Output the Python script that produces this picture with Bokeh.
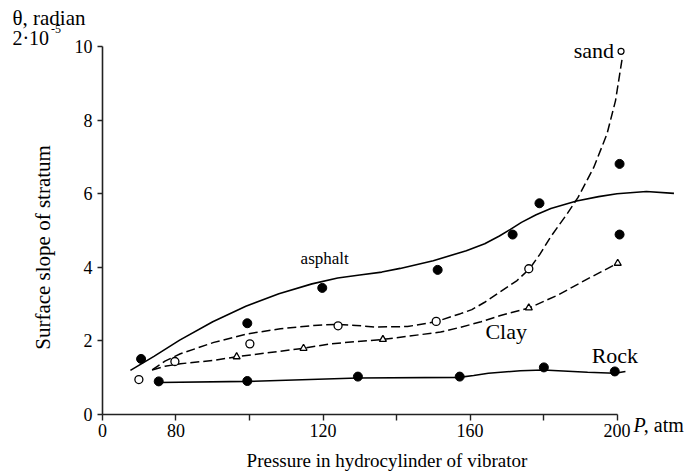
from bokeh.plotting import figure
from bokeh.models import Label, FixedTicker, Range1d
from bokeh.embed import file_html
from bokeh.resources import INLINE
import math

FONT = "Liberation Serif"

# ---- data ----
# smooth curves
asphalt_curve_x = [67.6, 74, 81, 90, 99, 108, 117, 124, 130, 136, 141, 150, 159, 164, 168, 171, 174, 178, 182, 189, 195, 200, 208, 215.5]
asphalt_curve_y = [1.20, 1.58, 2.02, 2.52, 2.94, 3.28, 3.55, 3.71, 3.79, 3.87, 3.97, 4.18, 4.45, 4.64, 4.85, 5.03, 5.22, 5.43, 5.60, 5.80, 5.92, 6.0, 6.06, 6.01]

rock_curve_x = [75.3, 99.4, 129.5, 157, 161, 165, 173.7, 180, 192, 199.4, 202.3]
rock_curve_y = [0.87, 0.90, 0.99, 1.01, 1.06, 1.12, 1.19, 1.21, 1.15, 1.12, 1.17]

sand_curve_x = [73.5, 77, 81.2, 90.3, 99.4, 108.4, 117.5, 124, 129, 134, 143, 150.7, 157.4, 160.5, 164, 167.4, 172.8, 176.2, 179, 181.9, 186.4, 189.4, 193.7, 197.3, 199.6, 201.4]
sand_curve_y = [1.21, 1.45, 1.65, 1.96, 2.19, 2.33, 2.42, 2.45, 2.42, 2.38, 2.39, 2.52, 2.74, 2.85, 3.05, 3.28, 3.64, 3.96, 4.35, 4.82, 5.45, 5.90, 6.72, 7.63, 8.53, 9.67]

clay_curve_x = [73.5, 77, 81.2, 90.3, 96.5, 108.4, 114.7, 122, 136.3, 146.5, 152, 157.4, 163, 168.3, 176.2, 184, 191.5, 200.2]
clay_curve_y = [1.21, 1.31, 1.38, 1.47, 1.57, 1.72, 1.80, 1.92, 2.04, 2.17, 2.24, 2.37, 2.52, 2.69, 2.90, 3.25, 3.66, 4.11]

# measured points
asphalt_pts_x = [70.5, 99.4, 119.8, 151.2, 171.6, 178.9, 200.7, 200.7]
asphalt_pts_y = [1.51, 2.48, 3.44, 3.93, 4.89, 5.74, 6.81, 4.89]

rock_pts_x = [75.3, 99.4, 129.5, 157.2, 180.1, 199.4]
rock_pts_y = [0.90, 0.91, 1.03, 1.03, 1.28, 1.17]

sand_pts_x = [69.9, 79.7, 100.1, 124.1, 150.8, 176.0]
sand_pts_y = [0.95, 1.44, 1.92, 2.41, 2.53, 3.96]
sand_end_x = [201.1]
sand_end_y = [9.87]

clay_pts_x = [96.5, 114.7, 136.3, 176.0, 200.2]
clay_pts_y = [1.57, 1.80, 2.04, 2.90, 4.11]

x_ticks = [60, 80, 100, 120, 140, 160, 180, 200]
x_tick_labels = {60: "0", 80: "80", 100: "", 120: "120", 140: "", 160: "160", 180: "", 200: "200"}
y_ticks = [0, 2, 4, 6, 8, 10]

curve_labels = ["sand", "Clay", "Rock", "asphalt"]
curve_label_x = [188.2, 164.2, 193.1, 113.9]
curve_label_y = [9.89, 2.255, 1.61, 4.24]
curve_label_size = ["22px", "22px", "22px", "17px"]

# ---- figure: the plot area covers the whole canvas, axes sit at fixed data positions ----
p = figure(width=691, height=475, output_backend="svg", toolbar_location=None,
           x_range=Range1d(32.245, 220.272), y_range=Range1d(-1.6576, 11.25),
           min_border=0)
p.background_fill_color = "white"
p.border_fill_color = "white"
p.outline_line_color = None
p.xgrid.visible = False
p.ygrid.visible = False

for ax in (p.xaxis[0], p.yaxis[0]):
    ax.axis_line_color = "#222222"
    ax.axis_line_width = 1.6
    ax.major_tick_line_color = "#222222"
    ax.major_tick_line_width = 1.4
    ax.major_tick_in = 0
    ax.minor_tick_line_color = None
    ax.major_label_text_font = FONT
    ax.major_label_text_font_size = "18px"
    ax.major_label_text_color = "black"

xa = p.xaxis[0]
xa.fixed_location = 0
xa.ticker = FixedTicker(ticks=x_ticks)
xa.major_label_overrides = x_tick_labels
xa.bounds = (60, 200)
xa.major_tick_out = 6
xa.major_label_standoff = 3

ya = p.yaxis[0]
ya.fixed_location = 60
ya.ticker = FixedTicker(ticks=y_ticks)
ya.bounds = (0, 10)
ya.major_tick_out = 5
ya.major_label_standoff = 5

# curves
p.line(asphalt_curve_x, asphalt_curve_y, line_color="black", line_width=1.6)
p.line(rock_curve_x, rock_curve_y, line_color="black", line_width=1.6)
p.line(sand_curve_x, sand_curve_y, line_color="black", line_width=1.5, line_dash="9 4")
p.line(clay_curve_x, clay_curve_y, line_color="black", line_width=1.5, line_dash="9 4")

# points
p.scatter(asphalt_pts_x, asphalt_pts_y, size=9, marker="circle", fill_color="black", line_color="black")
p.scatter(rock_pts_x, rock_pts_y, size=9, marker="circle", fill_color="black", line_color="black")
p.scatter(sand_pts_x, sand_pts_y, size=8, marker="circle", fill_color="white", line_color="black", line_width=1.3)
p.scatter(sand_end_x, sand_end_y, size=6, marker="circle", fill_color="white", line_color="black", line_width=1.2)
p.scatter(clay_pts_x, clay_pts_y, size=7, marker="triangle", fill_color="white", line_color="black", line_width=1.3)

# curve labels
for t, x, y, s in zip(curve_labels, curve_label_x, curve_label_y, curve_label_size):
    p.add_layout(Label(x=x, y=y, text=t, text_font=FONT, text_font_size=s,
                       text_baseline="alphabetic", text_align="left", text_color="black"))

# axis titles and units
p.add_layout(Label(x=35.5, y=10.78, text="θ, radian", text_font=FONT, text_font_size="21px",
                   text_baseline="alphabetic", text_color="black"))
p.add_layout(Label(x=35.5, y=10.22, text="2·10", text_font=FONT, text_font_size="20px",
                   text_baseline="alphabetic", text_color="black"))
p.add_layout(Label(x=46.0, y=10.47, text="-5", text_font=FONT, text_font_size="12px",
                   text_baseline="alphabetic", text_color="black"))
p.add_layout(Label(x=204.5, y=-0.275, text="P", text_font=FONT, text_font_size="20px",
                   text_font_style="italic", text_baseline="alphabetic", text_color="black"))
p.add_layout(Label(x=207.3, y=-0.275, text=", atm", text_font=FONT, text_font_size="20px",
                   text_baseline="alphabetic", text_color="black"))
p.add_layout(Label(x=43.9, y=4.54, text="Surface slope of stratum", text_font=FONT,
                   text_font_size="21px", angle=math.pi / 2, text_align="center",
                   text_baseline="middle", text_color="black"))
p.add_layout(Label(x=137.4, y=-1.25, text="Pressure in hydrocylinder of vibrator", text_font=FONT,
                   text_font_size="19px", text_align="center", text_baseline="alphabetic",
                   text_color="black"))

open("out.html", "w").write(file_html(p, INLINE))
